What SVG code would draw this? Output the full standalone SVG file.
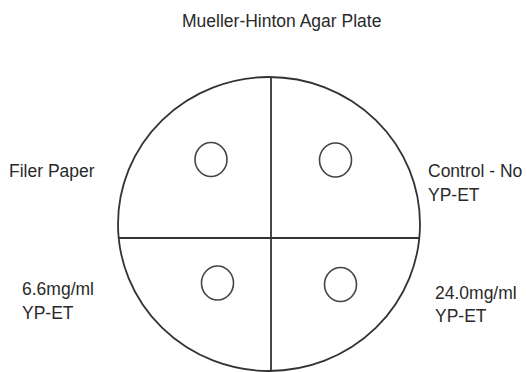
<svg xmlns="http://www.w3.org/2000/svg" width="527" height="372" viewBox="0 0 527 372">
<style>
.t{font-family:"Liberation Sans",Arial,sans-serif;font-size:17.5px;fill:#2a2a2a}
.ln{stroke:#333;stroke-width:1.8;fill:none}
.well{stroke:#444;stroke-width:1.6;fill:none}
</style>
<rect width="527" height="372" fill="#fff"/>
<text class="t" x="182" y="27">Mueller-Hinton Agar Plate</text>
<g id="plate">
<ellipse class="ln" cx="269" cy="224" rx="151" ry="147"/>
<line class="ln" x1="271" y1="77" x2="271" y2="372"/>
<line class="ln" x1="118" y1="238" x2="420" y2="238"/>
</g>
<g id="wells">
<ellipse class="well" cx="211" cy="159.5" rx="16" ry="17"/>
<ellipse class="well" cx="335.5" cy="160" rx="16" ry="17"/>
<ellipse class="well" cx="217.5" cy="283" rx="16" ry="17"/>
<ellipse class="well" cx="340.5" cy="284.5" rx="16" ry="17"/>
</g>
<g id="labels">
<text class="t" x="9" y="177">Filer Paper</text>
<text class="t" x="428" y="177">Control - No</text>
<text class="t" x="428" y="200.5">YP-ET</text>
<text class="t" x="22" y="295">6.6mg/ml</text>
<text class="t" x="22" y="318.5">YP-ET</text>
<text class="t" x="435" y="298.5">24.0mg/ml</text>
<text class="t" x="435" y="322">YP-ET</text>
</g>
</svg>
